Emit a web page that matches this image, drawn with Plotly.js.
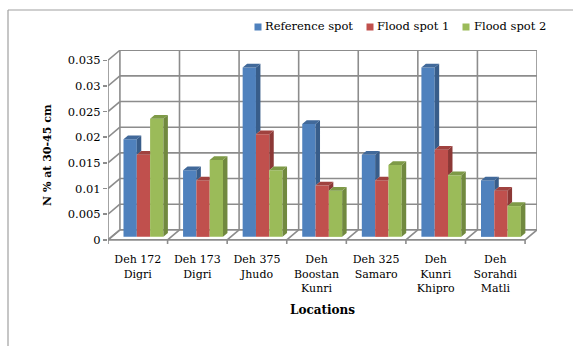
<!DOCTYPE html>
<html>
<head>
<meta charset="utf-8">
<script src="https://cdn.plot.ly/plotly-3.0.1.min.js"></script>
<style>
  html, body { margin: 0; padding: 0; background: #fff; }
  #chart { width: 573px; height: 347px; }
</style>
</head>
<body>
<div id="chart"></div>
<script>
// Soil nitrogen at 30-45 cm depth per location
const categories = ['Deh 172<br>Digri', 'Deh 173<br>Digri', 'Deh 375<br>Jhudo', 'Deh<br>Boostan<br>Kunri',
                    'Deh 325<br>Samaro', 'Deh<br>Kunri<br>Khipro', 'Deh<br>Sorahdi<br>Matli'];
const referenceSpot = [0.019, 0.013, 0.033, 0.022, 0.016, 0.033, 0.011];
const floodSpot1    = [0.016, 0.011, 0.020, 0.010, 0.011, 0.017, 0.009];
const floodSpot2    = [0.023, 0.015, 0.013, 0.009, 0.014, 0.012, 0.006];
const seriesNames   = ['Reference spot', 'Flood spot 1', 'Flood spot 2'];
const yTickVals     = [0, 0.005, 0.01, 0.015, 0.02, 0.025, 0.03, 0.035];
const yTickText     = ['0', '0.005', '0.01', '0.015', '0.02', '0.025', '0.03', '0.035'];
const yTitle        = 'N % at 30-45 cm';
const xTitle        = 'Locations';

const series = [referenceSpot, floodSpot1, floodSpot2];
const frontColors = ['#4F81BD', '#C0504D', '#9BBB59'];
const sideColors  = ['#385D8A', '#8C3836', '#71893F'];
const topColors   = ['#41699A', '#A0423F', '#7E9A47'];

const FONT = 'DejaVu Serif, Georgia, serif';
const GRID = '#8c8c8c';

// oblique depth of the walls, in axis units
const DX = 0.2, DY = 0.00195;
// bars sit between these fractions of the depth
const F0 = 0.3, F1 = 0.675;
const BW = 0.2233;          // width of one bar
const GROUP_START = -0.3;   // left edge of a cluster, relative to its category
const yMax = 0.035;
const nCat = categories.length;

// plot-area pixel box, used for paper-referenced decorations
const M = {l: 108, r: 36, t: 50, b: 102};
const W = 573, H = 347;
const pw = W - M.l - M.r, ph = H - M.t - M.b;
const xp = px => (px - M.l) / pw;
const yp = py => (H - M.b - py) / ph;

const traces = [];
const base = F0 * DY;
const sx = (F1 - F0) * DX, sy = (F1 - F0) * DY;

// front faces
series.forEach((vals, j) => {
  traces.push({
    type: 'bar',
    name: seriesNames[j],
    x: categories.map((_, i) => i),
    y: vals,
    base: vals.map(() => base),
    offset: GROUP_START + j * BW + F0 * DX,
    width: BW,
    marker: {color: frontColors[j], line: {width: 0}},
    showlegend: false
  });
});

// side and top faces, clipped where the next bar in the cluster hides them
series.forEach((vals, j) => {
  const sideX = [], sideY = [], topX = [], topY = [];
  vals.forEach((v, i) => {
    const L = i + GROUP_START + j * BW + F0 * DX;
    const R = L + BW;
    const yt = v + base;
    const hn = j < series.length - 1 ? series[j + 1][i] : null;
    if (hn === null || hn < v) {
      const yb = hn === null ? base : hn + base;
      sideX.push(R, R + sx, R + sx, R, R, null);
      sideY.push(yb, yb + sy, yt + sy, yt, yb, null);
    }
    if (hn !== null && hn > v) {
      topX.push(L, R, R, L + sx, L, null);
      topY.push(yt, yt, yt + sy, yt + sy, yt, null);
    } else {
      topX.push(L, R, R + sx, L + sx, L, null);
      topY.push(yt, yt, yt + sy, yt + sy, yt, null);
    }
  });
  traces.push({type: 'scatter', mode: 'lines', x: sideX, y: sideY, fill: 'toself',
               fillcolor: sideColors[j], line: {width: 0, color: sideColors[j]}, showlegend: false, hoverinfo: 'skip'});
  traces.push({type: 'scatter', mode: 'lines', x: topX, y: topY, fill: 'toself',
               fillcolor: topColors[j], line: {width: 0, color: topColors[j]}, showlegend: false, hoverinfo: 'skip'});
});

// walls and floor
const shapes = [];
const seg = (x0, y0, x1, y1, extra) => shapes.push(Object.assign({
  type: 'line', xref: 'x', yref: 'y', x0, y0, x1, y1, layer: 'below',
  line: {color: GRID, width: 1.6}
}, extra || {}));

const xl = -0.5, xr = nCat - 0.5;
yTickVals.forEach(v => {
  seg(xl + DX, v + DY, xr + DX, v + DY);      // back wall gridline
  seg(xl, v, xl + DX, v + DY);                // side wall diagonal
});
for (let k = 0; k <= nCat; k++) {
  const xb = xl + k;
  seg(xb + DX, DY, xb + DX, yMax + DY);       // back wall vertical
  seg(xb, 0, xb + DX, DY);                    // floor diagonal
  seg(xb, 0, xb, -0.0008);                    // category tick
}
seg(xl, 0, xl, yMax);                         // front value axis
seg(xl, 0, xr, 0);                            // floor front edge

// outer chart frame
const frame = {color: '#a0a0a0', width: 1.2};
shapes.push({type: 'line', xref: 'paper', yref: 'paper', x0: xp(8), y0: yp(346), x1: xp(8), y1: yp(10), line: frame});
shapes.push({type: 'line', xref: 'paper', yref: 'paper', x0: xp(8), y0: yp(10), x1: xp(573), y1: yp(10), line: frame});

// legend
const annotations = [];
const legendPos = [{sq: 254.5, tx: 262.5}, {sq: 366.5, tx: 375}, {sq: 462.5, tx: 472}];
seriesNames.forEach((name, j) => {
  shapes.push({type: 'rect', xref: 'paper', yref: 'paper',
               x0: xp(legendPos[j].sq), x1: xp(legendPos[j].sq + 7),
               y0: yp(30.5), y1: yp(23.5),
               fillcolor: frontColors[j], line: {width: 0}});
  annotations.push({xref: 'paper', yref: 'paper', x: xp(legendPos[j].tx), y: yp(26.5),
                    xanchor: 'left', yanchor: 'middle', showarrow: false, text: name,
                    font: {family: FONT, size: 11.5, color: '#000'}});
});

// value-axis title
annotations.push({xref: 'paper', yref: 'paper', x: xp(47), y: yp(155),
                  xanchor: 'center', yanchor: 'middle', textangle: -90, showarrow: false,
                  text: '<b>' + yTitle + '</b>', font: {family: FONT, size: 11, color: '#000'}});

const layout = {
  width: W, height: H,
  margin: M,
  paper_bgcolor: '#fff', plot_bgcolor: 'rgba(0,0,0,0)',
  barmode: 'overlay',
  showlegend: false,
  hovermode: false,
  xaxis: {
    range: [xl, xr + DX],
    tickvals: categories.map((_, i) => i),
    ticktext: categories,
    showgrid: false, zeroline: false, showline: false,
    ticks: 'outside', ticklen: 4, tickcolor: 'rgba(0,0,0,0)',
    tickfont: {family: FONT, size: 11, color: '#000'},
    title: {text: '<b>' + xTitle + '</b>', font: {family: FONT, size: 12, color: '#000'}, standoff: 11}
  },
  yaxis: {
    range: [-0.001, yMax + DY + 0.00005],
    tickvals: yTickVals,
    ticktext: yTickText,
    showgrid: false, zeroline: false, showline: false,
    ticks: 'outside', ticklen: 4, tickwidth: 1.5, tickcolor: GRID,
    tickfont: {family: FONT, size: 11.5, color: '#000'}
  },
  shapes: shapes,
  annotations: annotations
};

Plotly.newPlot('chart', traces, layout, {staticPlot: true, displayModeBar: false});
</script>
</body>
</html>
